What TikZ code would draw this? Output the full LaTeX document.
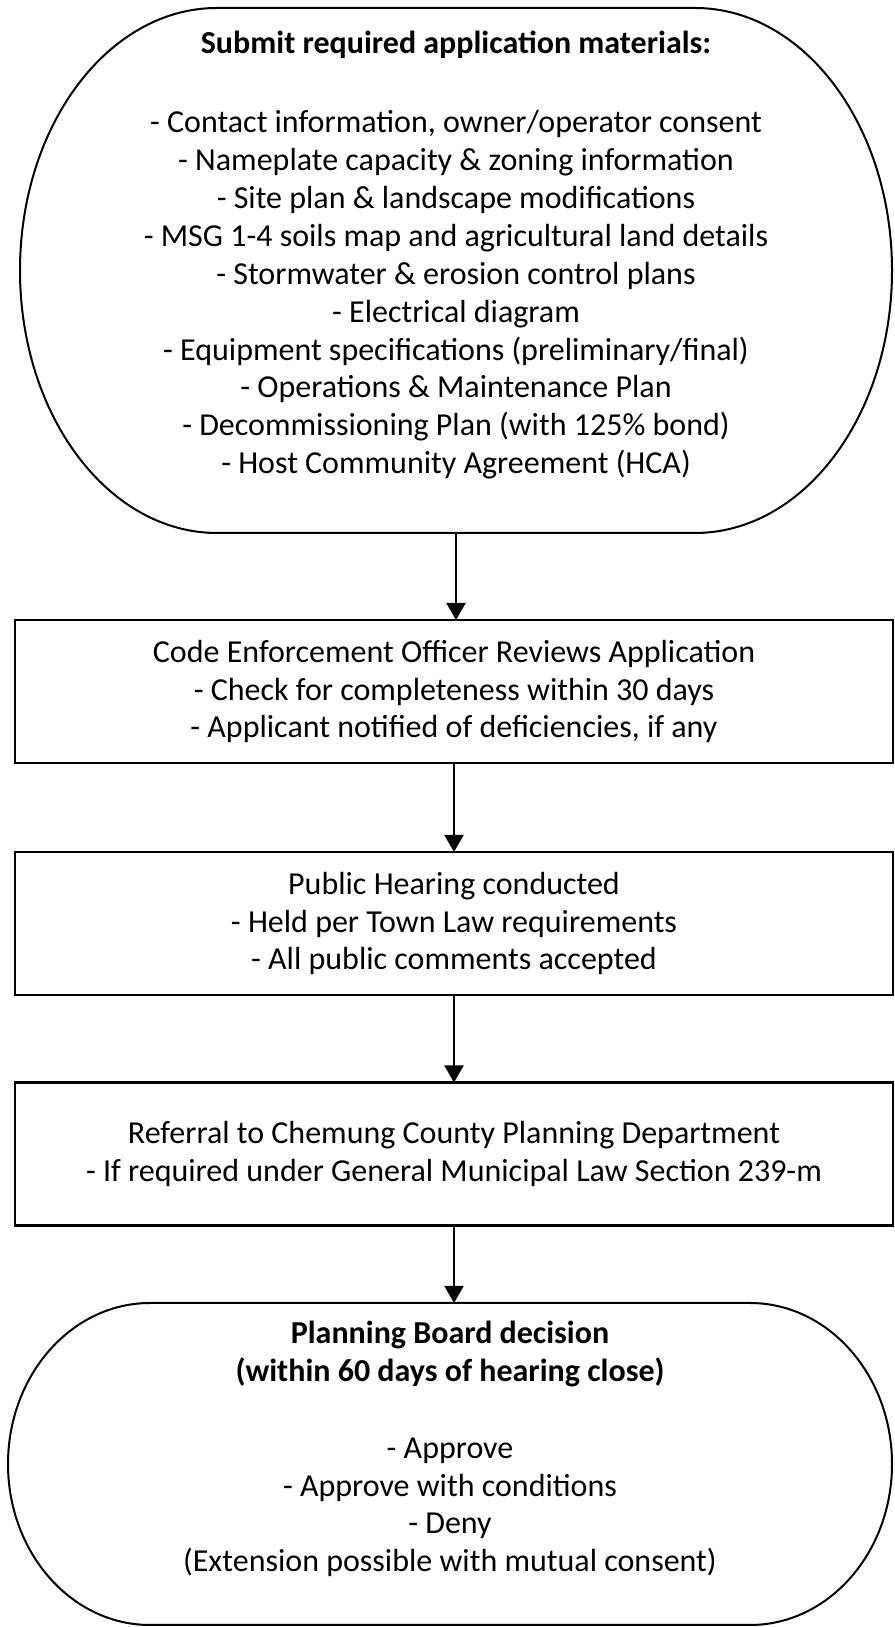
\documentclass[tikz,border=0pt]{standalone}
\usepackage{fontspec}
\setmainfont{Carlito}
\usetikzlibrary{arrows.meta}
\usetikzlibrary{calc}

% outline of a terminator: node, x radius, y radius
\newcommand{\termframe}[3]{%
  \draw[frameline] ($(#1.north west)+(#2,0)$) -- ($(#1.north east)-(#2,0)$)
    arc[start angle=90, end angle=-90, x radius=#2, y radius=#3]
    -- ($(#1.south west)+(#2,0)$)
    arc[start angle=270, end angle=90, x radius=#2, y radius=#3] -- cycle;}

\begin{document}
\begin{tikzpicture}[x=1pt, y=1pt,
  txt/.style={align=center, font=\fontsize{32}{37.9}\selectfont, inner sep=0pt},
  term/.style={inner sep=0pt, outer sep=0pt},
  stepbox/.style={draw, line width=2.4pt, minimum width=878pt, minimum height=143pt,
    inner sep=0pt, outer sep=0pt, align=center,
    execute at begin node={\rule{0pt}{34pt}},
    font=\fontsize{32}{37.9}\selectfont},
  frameline/.style={line width=2pt},
  flow/.style={line width=2pt, -{Triangle[width=19pt, length=17pt]}}]
  \useasboundingbox (0,0) rectangle (894,1627);

  \node[term, minimum width=872pt, minimum height=525pt] (submit) at (456,1356.5) {};
  \termframe{submit}{197}{262.5}
  \node[txt] (submittxt) at (456,1372) {\textbf{Submit required application materials:}\\[41.5pt]
    - Contact information, owner/operator consent\\
    - Nameplate capacity \& zoning information\\
    - Site plan \& landscape modifications\\
    - MSG 1-4 soils map and agricultural land details\\
    - Stormwater \& erosion control plans\\
    - Electrical diagram\\
    - Equipment specifications (preliminary/final)\\
    - Operations \& Maintenance Plan\\
    - Decommissioning Plan (with 125\% bond)\\
    - Host Community Agreement (HCA)};

  \node[stepbox] (review) at (454,935.5) {Code Enforcement Officer Reviews Application\\
    - Check for completeness within 30 days\\
    - Applicant notified of deficiencies, if any};
  \node[stepbox] (hearing) at (454,703.5) {Public Hearing conducted\\
    - Held per Town Law requirements\\
    - All public comments accepted};
  \node[stepbox] (referral) at (454,473) {Referral to Chemung County Planning Department\\
    - If required under General Municipal Law Section 239-m};

  \node[term, minimum width=884pt, minimum height=322pt] (decision) at (450,163) {};
  \termframe{decision}{142}{161}
  \node[txt] (decisiontxt) at (450,178) {\textbf{Planning Board decision}\\
    \textbf{(within 60 days of hearing close)}\\[39pt]
    - Approve\\
    - Approve with conditions\\
    - Deny\\
    (Extension possible with mutual consent)};

  \foreach \from/\to in {submit/review, review/hearing, hearing/referral, referral/decision}
    \draw[flow] (\from.south) -- (\from.south |- \to.north);
\end{tikzpicture}
\end{document}
